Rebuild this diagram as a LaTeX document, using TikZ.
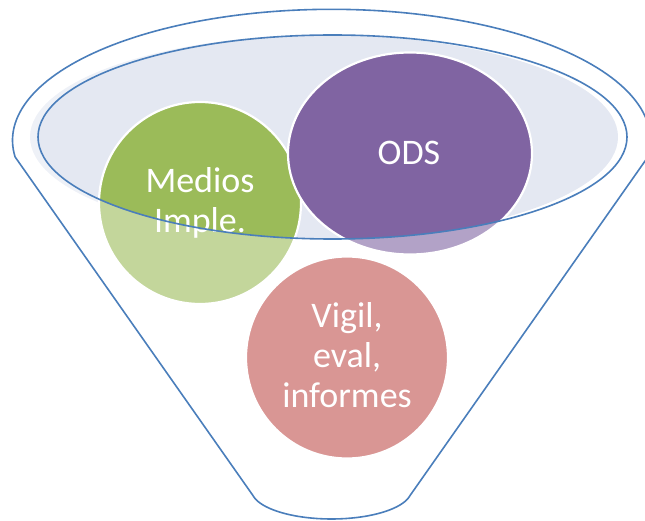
\documentclass[tikz,border=0pt]{standalone}
\usepackage{fontspec}
\setmainfont{Carlito}
\usetikzlibrary{shapes.geometric}
\definecolor{fgreen}{HTML}{9BBB59}
\definecolor{fpurple}{HTML}{8064A2}
\definecolor{fred}{HTML}{C0504D}
\definecolor{rimblue}{HTML}{4A7EBB}
\definecolor{bowlfill}{HTML}{E4E8F2}
\begin{document}
\begin{tikzpicture}[x=1pt,y=-1pt,
  bubble/.style={draw=white, line width=2.2pt, inner sep=0pt},
  txt/.style={text=white, font=\fontsize{36}{40}\selectfont, anchor=base, inner sep=0pt},
  rim/.style={draw=rimblue, line width=1.6pt, line join=round},
  veil/.style={fill=white, fill opacity=0.4, even odd rule}]
\useasboundingbox (0,0) rectangle (645,521);
% bowl surface
\fill[bowlfill] (324,137) ellipse [x radius=294pt, y radius=102pt];
% bubbles
\node[bubble, circle, fill=fgreen, minimum size=202pt] (g) at (200,203) {};
\node[bubble, ellipse, fill=fpurple, minimum width=244pt, minimum height=202pt] (p) at (410,153.5) {};
\node[bubble, circle, fill=fred, minimum size=202pt] (r) at (347,357.5) {};
% funnel body veil
\path[veil] plot[domain=-187.3:7.3, samples=120] ({331.5+319*cos(\x)},{140.3+131*sin(\x)})
  -- plot[domain=11:169, samples=40] ({331.5+80*cos(\x)},{490+29*sin(\x)}) -- cycle
  (332.5,137) ellipse [x radius=294.5pt, y radius=102pt];
% texts
\node[txt] (g1) at (200,193) {Medios};
\node[txt] (g2) at (200,233) {Imple.};
\node[txt] (p1) at (409,165) {ODS};
\node[txt] (r1) at (347,327) {Vigil,};
\node[txt] (r2) at (347,367) {eval,};
\node[txt] (r3) at (347,407) {informes};
% outlines
\draw[rim] plot[domain=-187.3:7.3, samples=120] ({331.5+319*cos(\x)},{140.3+131*sin(\x)})
  -- plot[domain=11:169, samples=40] ({331.5+80*cos(\x)},{490+29*sin(\x)}) -- cycle;
\draw[rim] (332.5,137) ellipse [x radius=294.5pt, y radius=102pt];
\end{tikzpicture}
\end{document}
